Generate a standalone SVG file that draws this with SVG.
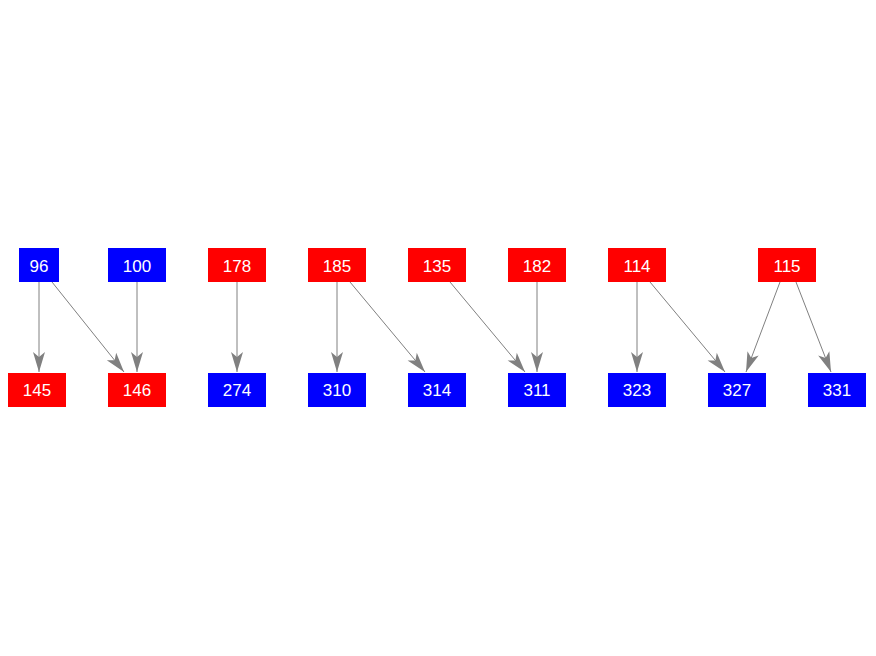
<svg xmlns="http://www.w3.org/2000/svg" width="876" height="656" viewBox="0 0 876 656">
<style>
.r{fill:#ff0000}
.b{fill:#0000ff}
text{font-family:"Liberation Sans",Arial,sans-serif;font-size:17px;fill:#ffffff;text-anchor:middle;dominant-baseline:central}
.e{stroke:#808080;stroke-width:1;fill:none;marker-end:url(#ah)}
</style>
<defs>
<marker id="ah" markerUnits="userSpaceOnUse" orient="auto" markerWidth="24" markerHeight="14" viewBox="-21 -7 22 14" refX="0" refY="0">
<path d="M0,0 L-20,-6 L-15,0 L-20,6 Z" fill="#808080"/>
</marker>
</defs>
<rect width="876" height="656" fill="#ffffff"/>
<g id="connectors">
<line class="e" x1="39" y1="282" x2="39" y2="372"/>
<line class="e" x1="52" y1="282" x2="124" y2="372"/>
<line class="e" x1="137" y1="282" x2="137" y2="372"/>
<line class="e" x1="237" y1="282" x2="237" y2="372"/>
<line class="e" x1="337" y1="282" x2="337" y2="372"/>
<line class="e" x1="350" y1="282" x2="425" y2="372"/>
<line class="e" x1="450" y1="282" x2="525" y2="372"/>
<line class="e" x1="537" y1="282" x2="537" y2="372"/>
<line class="e" x1="637" y1="282" x2="637" y2="372"/>
<line class="e" x1="650" y1="282" x2="725" y2="372"/>
<line class="e" x1="780" y1="282" x2="746" y2="372"/>
<line class="e" x1="796" y1="282" x2="831" y2="372"/>
</g>
<g id="n96"><rect class="b" x="19" y="248" width="40" height="34"/><text x="39" y="266">96</text></g>
<g id="n100"><rect class="b" x="108" y="248" width="58" height="34"/><text x="137" y="266">100</text></g>
<g id="n178"><rect class="r" x="208" y="248" width="58" height="34"/><text x="237" y="266">178</text></g>
<g id="n185"><rect class="r" x="308" y="248" width="58" height="34"/><text x="337" y="266">185</text></g>
<g id="n135"><rect class="r" x="408" y="248" width="58" height="34"/><text x="437" y="266">135</text></g>
<g id="n182"><rect class="r" x="508" y="248" width="58" height="34"/><text x="537" y="266">182</text></g>
<g id="n114"><rect class="r" x="608" y="248" width="58" height="34"/><text x="637" y="266">114</text></g>
<g id="n115"><rect class="r" x="758" y="248" width="58" height="34"/><text x="787" y="266">115</text></g>
<g id="n145"><rect class="r" x="8" y="373" width="58" height="34"/><text x="37" y="390">145</text></g>
<g id="n146"><rect class="r" x="108" y="373" width="58" height="34"/><text x="137" y="390">146</text></g>
<g id="n274"><rect class="b" x="208" y="373" width="58" height="34"/><text x="237" y="390">274</text></g>
<g id="n310"><rect class="b" x="308" y="373" width="58" height="34"/><text x="337" y="390">310</text></g>
<g id="n314"><rect class="b" x="408" y="373" width="58" height="34"/><text x="437" y="390">314</text></g>
<g id="n311"><rect class="b" x="508" y="373" width="58" height="34"/><text x="537" y="390">311</text></g>
<g id="n323"><rect class="b" x="608" y="373" width="58" height="34"/><text x="637" y="390">323</text></g>
<g id="n327"><rect class="b" x="708" y="373" width="58" height="34"/><text x="737" y="390">327</text></g>
<g id="n331"><rect class="b" x="808" y="373" width="58" height="34"/><text x="837" y="390">331</text></g>
</svg>
